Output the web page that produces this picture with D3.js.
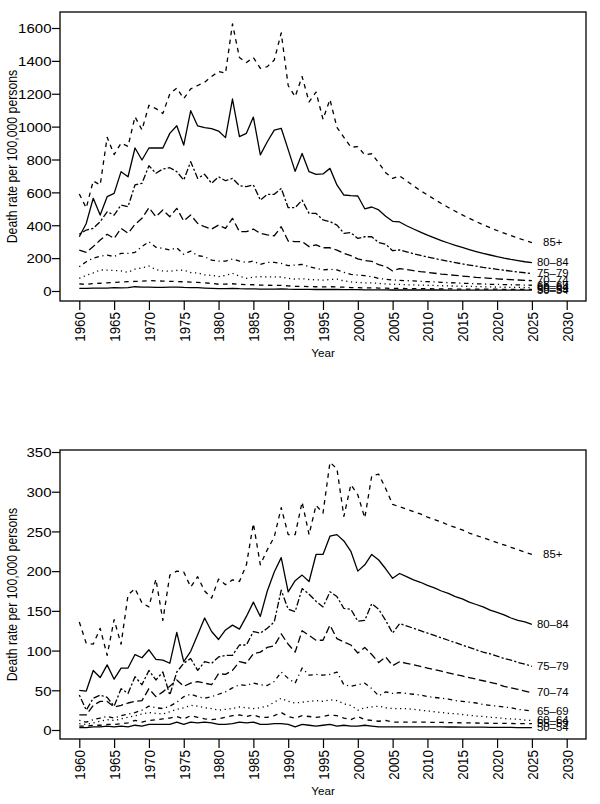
<!DOCTYPE html>
<html><head><meta charset="utf-8">
<script src="https://cdn.jsdelivr.net/npm/d3@7"></script>
<style>body{margin:0;background:#fff}svg{display:block}text{font-family:"Liberation Sans",Arial,Helvetica,sans-serif;fill:#000}</style>
</head><body>
<svg id="chart" width="600" height="804"></svg>
<script>
const years = [1960,1961,1962,1963,1964,1965,1966,1967,1968,1969,
1970,1971,1972,1973,1974,1975,1976,1977,1978,1979,
1980,1981,1982,1983,1984,1985,1986,1987,1988,1989,
1990,1991,1992,1993,1994,1995,1996,1997,1998,1999,
2000,2001,2002,2003,2004,2005,2006,2007,2008,2009,
2010,2011,2012,2013,2014,2015,2016,2017,2018,2019,
2020,2021,2022,2023,2024,2025];
const ageGroups = ["50–54","55–59","60–64","65–69","70–74","75–79","80–84","85+"];
const xTicks = [1960,1965,1970,1975,1980,1985,1990,1995,2000,2005,2010,2015,2020,2025,2030];
const topYTicks = [0,200,400,600,800,1000,1200,1400,1600];
const bottomYTicks = [0,50,100,150,200,250,300,350];
const yTitle = "Death rate per 100,000 persons";
const xTitle = "Year";

// Top panel
const top50 = [16,16,17,17,18,20,19,20,26,24, 23,22,22,23,24,22,21,20,18,16, 14,15,16,14,13,13,12,12,12,13, 11,10,10,10,9,9,9,9,8,8, 8,7,7,7,7,6,6,6,6,6, 6,6,6,5.5,5.5,5.5,5.5,5.5,5,5, 5,5,5,5,5,5];
const top55 = [43,40,45,47,50,52,55,57,58,60, 63,62,60,58,58,56,54,52,50,46, 41,42,44,40,39,38,36,35,34,34, 31,29,28,27,26,25,26,25,23,21, 20,19,19,18,17,16,16,15,15,14, 14,13,13,13,12,12,12,11,11,11, 11,10,10,10,10,10];
const top60 = [77,95,110,128,127,125,122,114,133,140, 152,130,122,120,125,127,112,110,98,95, 88,95,108,90,77,85,87,85,86,85, 77,72,75,70,68,66,70,72,62,55, 52,50,50,46,43,40,40,38,37,36, 35,34,32,31,30,29,28,27,26,25, 24,23,22,22,21,20];
const top65 = [148,178,200,212,218,210,229,229,235,270, 300,266,259,249,263,223,243,215,209,188, 182,182,195,182,174,182,162,174,174,168, 154,158,162,148,138,128,132,128,113,101, 97,93,87,77,71,67,65,63,61,59, 57,55,53,51,49,47,46,44,43,41, 40,39,38,37,36,35];
const top70 = [249,235,270,310,345,320,381,351,405,442, 507,452,493,452,503,426,462,411,391,377, 401,381,442,361,361,377,351,341,336,391, 304,300,300,270,280,263,263,249,229,215, 195,185,180,160,150,122,136,130,124,118, 113,108,103,99,95,91,87,83,80,77, 74,71,69,67,65,63];
const top75 = [345,371,381,422,482,462,523,513,645,655, 762,716,742,750,726,675,787,685,710,655, 695,671,685,641,635,645,553,588,588,624, 507,507,553,472,472,432,422,401,351,355, 320,330,330,295,285,245,250,238,227,217, 207,198,189,181,173,165,158,151,144,138, 132,126,121,116,111,106];
const top80 = [330,411,564,462,574,594,726,695,870,797, 870,870,870,959,1005,888,1097,1004,994,988, 973,933,1168,939,959,1058,828,908,979,990, 860,728,837,726,710,712,746,645,584,580, 578,500,511,493,455,424,420,397,377,358, 340,323,307,292,278,265,252,240,229,219, 209,200,192,185,178,172];
const top85 = [590,505,670,645,935,830,900,880,1060,980, 1130,1110,1080,1200,1235,1170,1230,1250,1270,1305, 1335,1325,1625,1420,1390,1420,1355,1365,1405,1570, 1250,1182,1305,1150,1210,1045,1165,995,935,875, 878,828,835,780,720,685,700,670,640,610, 585,558,532,508,485,463,442,422,403,385, 368,352,337,322,308,295];

// Bottom panel
const bot50 = [3,3,4,4,5,4,5,4,6,5, 7,7,7,7,10,7,10,9,10,9, 7,7,8,10,9,10,7,7,8,8, 7,4,7,6,5,6,7,5,6,5, 5,6,5,4,4,4,4,4,4,4, 4,4,4,3.8,3.8,3.7,3.6,3.5,3.5,3.4, 3.3,3.3,3.2,3.1,3.1,3.0];
const bot55 = [5,5,6,6,7,7,8,9,12,10, 12,13,14,15,17,14,18,16,14,13, 14,16,18,19,17,19,16,16,18,22, 17,15,18,17,16,17,19,18,15,13, 17,13,12,11,12,10,10,10,10,10, 9.8,9.6,9.5,9.3,9.2,9,8.9,8.8,8.6,8.5, 8.4,8.3,8.2,8.1,8,8];
const bot60 = [8,7,9,11,13,12,14,16,18,20, 22,21,20,23,26,28,31,30,28,27, 25,26,27,29,28,27,28,30,35,40, 36,34,35,36,37,36,38,37,33,31, 25,28,29,30,28,27,27,27,26,25, 24,23,22,21,20.5,19.5,18.5,17.5,17,16, 15.5,14.5,14,13.5,12.5,12];
const bot65 = [12,10,13,15,17,15,18,20,22,25, 30,28,27,30,35,42,45,42,40,42, 45,48,53,57,56,59,57,56,61,73, 65,59,78,69,70,69,70,73,57,55, 57,59,52,43,48,46,47,46,45,44, 42,41,40,39,37,36,35,34,32,31, 30,29,28,26,25,24];
const bot70 = [19,19,31,36,36,29,31,34,36,37, 52,42,48,55,63,55,59,61,59,57, 71,70,75,86,84,96,98,104,106,121, 108,98,125,119,113,113,132,115,111,107, 97,104,95,85,92,81,86,84,82,80, 78,76,74,72,70,68,66,64,62,60, 58,55,53,51,49,47];
const bot75 = [44,25,40,44,41,30,52,46,67,57, 75,63,73,44,73,84,90,75,86,84, 92,94,94,107,107,124,122,128,136,176, 152,149,178,171,162,155,174,168,153,152, 137,138,159,152,138,122,134,131,128,125, 122,119,116,113,110,107,104,101,98,96, 93,90,88,85,83,80];
const bot80 = [50,49,75,66,82,64,78,78,95,91, 101,89,88,84,123,86,99,120,141,124, 114,126,132,127,143,161,143,175,199,217, 174,188,195,187,221,221,244,246,238,225, 200,208,221,214,203,191,197,193,189,186, 182,179,175,172,168,165,161,158,155,151, 148,145,141,138,136,133];
const bot85 = [136,109,108,128,94,139,108,170,178,160, 155,190,138,195,200,199,180,193,175,166, 190,183,189,187,208,260,208,227,243,280, 246,246,287,246,283,273,337,329,269,309, 296,267,320,322,304,284,281,278,275,272, 268,265,262,258,255,252,248,245,242,239, 236,233,230,227,224,221];

const topSeries = [top50, top55, top60, top65, top70, top75, top80, top85];
const bottomSeries = [bot50, bot55, bot60, bot65, bot70, bot75, bot80, bot85];

// styles (R lty 1..6 cycle)
const dashes = [null, "4.5,4.5", "1.2,3.6", "1.2,3.6,4.5,3.6", "7.5,3.6", "2.2,2.2,6.6,2.2", null, "4.5,4.5"];
const SX = 1.12;

const svg = d3.select("#chart");
const x = d3.scaleLinear().domain([1960, 2030]).range([79.3, 566.7]);

function panel(box, yDomain, yRange, yTicks, series) {
  const y = d3.scaleLinear().domain(yDomain).range(yRange);
  const g = svg.append("g");
  const line = d3.line().x((d, i) => x(years[i])).y(d => y(d));
  series.forEach((s, k) => {
    g.append("path").datum(s).attr("d", line)
      .attr("fill", "none").attr("stroke", "#000").attr("stroke-width", 1.3)
      .attr("stroke-linejoin", "round")
      .attr("stroke-dasharray", dashes[k]);
    g.append("text")
      .attr("transform", `translate(${x(2028)},${y(s[s.length - 1])}) scale(${SX},1)`)
      .attr("text-anchor", "middle").attr("dy", "0.36em")
      .style("font-size", "10.2px").text(ageGroups[k]);
  });
  // box
  g.append("rect").attr("x", box.x0).attr("y", box.y0)
    .attr("width", box.x1 - box.x0).attr("height", box.y1 - box.y0)
    .attr("fill", "none").attr("stroke", "#000").attr("stroke-width", 1.3);
  // y axis
  const ya = g.append("g").attr("transform", `translate(${box.x0},0)`)
    .call(d3.axisLeft(y).tickValues(yTicks).tickSize(8).tickSizeOuter(0).tickFormat(d3.format("d")));
  ya.select(".domain").remove();
  ya.selectAll(".tick line").attr("stroke", "#000").attr("stroke-width", 1.2);
  ya.selectAll(".tick text").attr("x", null).attr("dy", null)
    .attr("transform", `translate(-8.5,4.8) scale(${SX},1)`)
    .style("font-size", "13.4px").attr("fill", "#000").style("font-family", null);
  // x axis
  const xa = g.append("g").attr("transform", `translate(0,${box.y1})`)
    .call(d3.axisBottom(x).tickValues(xTicks).tickSize(9).tickSizeOuter(0).tickFormat(d3.format("d")));
  xa.select(".domain").remove();
  xa.selectAll(".tick line").attr("stroke", "#000").attr("stroke-width", 1.2);
  xa.selectAll(".tick text").attr("y", null).attr("dy", null)
    .attr("text-anchor", "end")
    .attr("transform", `translate(5.4,11) scale(${SX},1) rotate(-90)`)
    .style("font-size", "13.4px").attr("fill", "#000").style("font-family", null);
  // titles
  g.append("text")
    .attr("transform", `translate(17,${(box.y0 + box.y1) / 2}) scale(${SX},1) rotate(-90)`)
    .attr("text-anchor", "middle").style("font-size", "12.3px").text(yTitle);
  g.append("text")
    .attr("transform", `translate(${(box.x0 + box.x1) / 2},${box.y1 + 55.5}) scale(${SX},1)`)
    .attr("text-anchor", "middle").style("font-size", "10.4px").text(xTitle);
}

panel({x0: 60, x1: 586, y0: 12, y1: 301}, [0, 1600], [291, 28], topYTicks, topSeries);
panel({x0: 60, x1: 586, y0: 450, y1: 739}, [0, 350], [730, 452], bottomYTicks, bottomSeries);
</script>
</body></html>
